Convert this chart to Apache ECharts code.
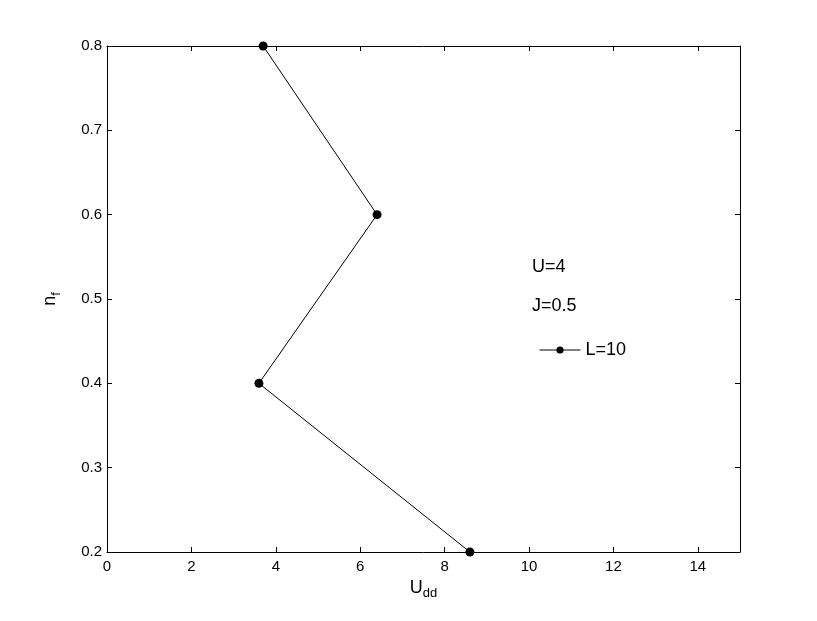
<!DOCTYPE html>
<html>
<head>
<meta charset="utf-8">
<script src="https://cdn.jsdelivr.net/npm/echarts@6/dist/echarts.min.js"></script>
<style>
  html, body { margin: 0; padding: 0; background: #fff; }
  #chart { width: 817px; height: 621px; }
</style>
</head>
<body>
<div id="chart"></div>
<script>
// data
var uddValues = [3.7, 6.4, 3.6, 8.6]
var nfValues = [0.8, 0.6, 0.4, 0.2]
var seriesName = 'L=10'
var notes = ['U=4', 'J=0.5']

var font = 'Liberation Sans, Arial, sans-serif'
var myChart = echarts.init(document.getElementById('chart'), null, { renderer: 'canvas' })

var points = uddValues.map(function (x, i) { return [x, nfValues[i]] })

var subRich = {
  a: { fontSize: 18, fontFamily: font, color: '#000' },
  b: { fontSize: 13, fontFamily: font, color: '#000', padding: [12, 0, 0, 0] }
}

// 坐标轴公共样式，刻度朝内
function axisBase (pos, showLabel) {
  return {
    type: 'value',
    position: pos,
    axisLine: { show: true, onZero: false, lineStyle: { color: '#000', width: 1 } },
    axisTick: { show: true, inside: true, length: 5, lineStyle: { color: '#000' } },
    axisLabel: { show: showLabel, color: '#000', fontSize: 15, fontFamily: font, margin: 7 },
    splitLine: { show: false }
  }
}

var xBottom = Object.assign(axisBase('bottom', true), {
  min: 0, max: 15, interval: 2,
  name: '{a|U}{b|dd}', nameLocation: 'middle', nameGap: 23,
  nameTextStyle: { rich: subRich }
})
var xTop = Object.assign(axisBase('top', false), { min: 0, max: 15, interval: 2 })
var yLeft = Object.assign(axisBase('left', true), {
  min: 0.2, max: 0.8, interval: 0.1,
  name: '{a|n}{b|f}', nameLocation: 'middle', nameGap: 44, nameRotate: 90,
  nameTextStyle: { rich: subRich }
})
yLeft.axisLabel.margin = 5
yLeft.axisLabel.formatter = function (v) { return v.toFixed(1) }
var yRight = Object.assign(axisBase('right', false), { min: 0.2, max: 0.8, interval: 0.1 })
xBottom.axisLabel.showMaxLabel = false

var option = {
  animation: false,
  backgroundColor: '#fff',
  grid: { left: 107, right: 77, top: 46, bottom: 69, show: false },
  xAxis: [xBottom, xTop],
  yAxis: [yLeft, yRight],
  legend: {
    left: 534, top: 336,
    itemWidth: 41, itemHeight: 9, itemGap: 4,
    lineStyle: { width: 1, color: '#000' },
    textStyle: { color: '#000', fontSize: 18, fontFamily: font },
    data: [{ name: seriesName }]
  },
  graphic: [
    { type: 'text', left: 532, top: 258, style: { text: notes[0], fill: '#000', fontSize: 18, fontFamily: font } },
    { type: 'text', left: 532, top: 297, style: { text: notes[1], fill: '#000', fontSize: 18, fontFamily: font } }
  ],
  series: [{
    name: seriesName,
    type: 'line',
    data: points,
    symbol: 'circle',
    symbolSize: 9,
    clip: false,
    lineStyle: { color: '#000', width: 1 },
    itemStyle: { color: '#000' }
  }]
}
myChart.setOption(option)
</script>
</body>
</html>
